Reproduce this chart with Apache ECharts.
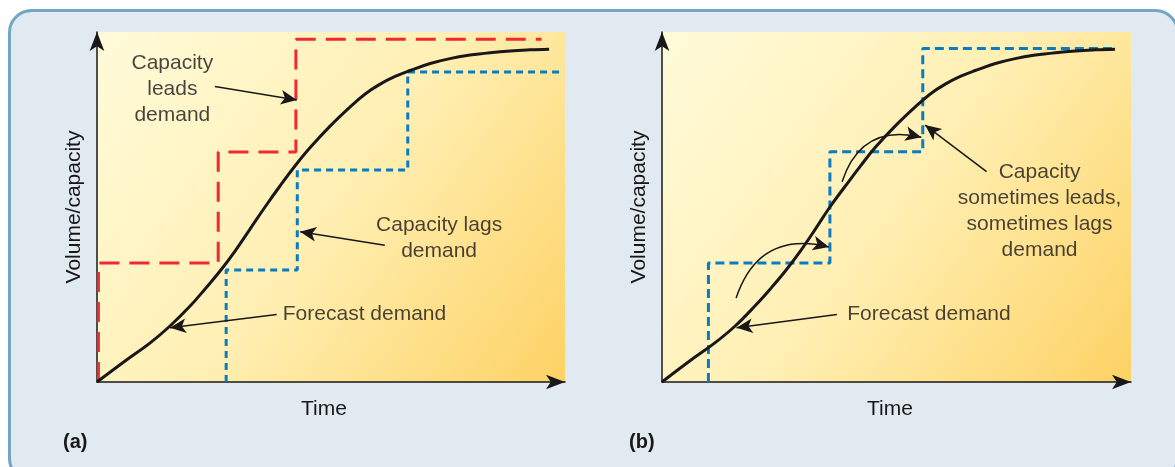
<!DOCTYPE html>
<html><head><meta charset="utf-8">
<script src="https://cdn.jsdelivr.net/npm/echarts@6/dist/echarts.min.js"></script>
<style>html,body{margin:0;padding:0;background:#fff}#c{width:1175px;height:467px}</style>
</head><body><div id="c"></div>
<script>
// ---------- data (x: time 0..100, y: volume/capacity 0..100) ----------
const curveA = [[0,0],[6,6],[11.3,11.1],[15.6,16],[19.9,21.7],[23.1,26.6],[26.3,31.7],[29.5,37.4],[32.7,43.7],[35.9,50],[39.1,56],[42.3,61.7],[45.5,66.9],[49.8,73.1],[54.1,78.6],[57.3,82.3],[60.5,85.1],[63.7,87.3],[66.9,89],[71.2,91],[75.4,92.4],[79.7,93.4],[84,94.1],[88.3,94.6],[92.5,94.9],[96.6,95.1]];
const leadStepsA = [[0.3,0],[0.3,34],[25.9,34],[25.9,65.7],[42.5,65.7],[42.5,97.9],[95,97.9]];
const lagStepsA = [[27.6,0],[27.6,32],[42.8,32],[42.8,60.6],[66.4,60.6],[66.4,88.6],[98.9,88.6]];
const curveB = [[0,0],[5.9,6],[11.2,11.1],[15.6,16],[19.8,21.7],[23.1,26.6],[26.3,31.7],[29.5,37.4],[32.7,43.7],[35.8,50],[39.1,56],[42.3,61.7],[45.4,66.9],[49.7,73.1],[54,78.6],[57.2,82.3],[60.4,85.1],[63.6,87.3],[66.8,89],[71.1,91],[75.3,92.4],[79.6,93.4],[83.9,94.1],[88.2,94.6],[92.4,94.9],[96.6,95.1]];
const mixedStepsB = [[9.9,0],[9.9,34],[35.8,34],[35.8,65.8],[55.6,65.8],[55.6,95.3],[96.6,95.3]];
// annotation texts anchored in data space
const labelsA = [[16.1,83.7,'Capacity\nleads\ndemand','center'],[73.1,41.2,'Capacity lags\ndemand','center'],[39.7,19.4,'Forecast demand','left']];
const labelsB = [[80.5,48.9,'Capacity\nsometimes leads,\nsometimes lags\ndemand','center'],[39.5,19.4,'Forecast demand','left']];
// straight arrows: [from, to]
const arrowsA = [[[25.2,84.4],[42.7,80.6]],[[61.5,39.1],[43.4,42.9]],[[38.4,19.3],[15.6,15.5]]];
const arrowsB = [[[37.3,19.3],[15.9,15.5]],[[69.2,60.1],[56.1,73.4]]];
// curved arrows in (b): [from, to]
const curvedArrowsB = [[[15.8,24.0],[35.6,38.6]],[[38.4,57.2],[55.3,69.9]]];
const axisNames = {x:'Time', y:'Volume/capacity'};
const panelTags = ['(a)','(b)'];

// ---------- chart ----------
const INK = '#1a1718';
const FONT = '"Liberation Sans", Arial, Helvetica, sans-serif';
const chart = echarts.init(document.getElementById('c'));
function bg(){ return new echarts.graphic.LinearGradient(0,0,1,1,[{offset:0,color:'#fffbda'},{offset:0.5,color:'#ffefb3'},{offset:1,color:'#fdd264'}]); }
function xAx(i, pad){ return {type:'value', gridIndex:i, min:0, max:100, name:axisNames.x, nameLocation:'middle', nameGap:17,
  nameTextStyle:{fontSize:21, color:INK, fontFamily:FONT, padding:[0,pad,0,0]},
  axisLine:{show:true, lineStyle:{color:INK, width:1.5}, symbol:['none','arrow'], symbolSize:[11,19]},
  axisTick:{show:false}, axisLabel:{show:false}, splitLine:{show:false}}; }
function yAx(i){ return {type:'value', gridIndex:i, min:0, max:100, name:axisNames.y, nameLocation:'middle', nameGap:12,
  nameTextStyle:{fontSize:21, color:INK, fontFamily:FONT},
  axisLine:{show:true, lineStyle:{color:INK, width:1.5}, symbol:['none','arrow'], symbolSize:[11,19]},
  axisTick:{show:false}, axisLabel:{show:false}, splitLine:{show:false}}; }
function lineS(i, data, color, width, type){ return {type:'line', xAxisIndex:i, yAxisIndex:i, data:data, showSymbol:false, symbol:'none',
  lineStyle:{color:color, width:width, type:type}, silent:true, animation:false, z:3}; }
function arrowS(i, arrows, curveness){ return {type:'lines', coordinateSystem:'cartesian2d', xAxisIndex:i, yAxisIndex:i, silent:true, animation:false, z:6,
  symbol:['none','arrow'], symbolSize:[1,[11,16]], effect:{show:false},
  lineStyle:{color:INK, width:1.5, type:'solid', opacity:1, curveness:curveness},
  data: arrows.map(a => ({coords:[a[0], a[1]]}))}; }
function labelS(i, labels){ return {type:'scatter', xAxisIndex:i, yAxisIndex:i, symbolSize:0, silent:true, animation:false, z:5,
  data: labels.map(l => ({value:[l[0],l[1]], label:{show:true, position:'inside', formatter:l[2], align:l[3], verticalAlign:'middle',
     fontSize:21, lineHeight:26, color:INK, fontFamily:FONT}}))}; }
chart.setOption({
  backgroundColor:'#ffffff',
  animation:false,
  graphic:{elements:[
    {type:'rect', z:-10, silent:true, shape:{x:9.5, y:10.5, width:1168, height:470, r:22}, style:{fill:'#e0eaf0', stroke:'#72a6c2', lineWidth:3}},
    {type:'text', z:10, silent:true, left:63, top:432, style:{text:panelTags[0], fontSize:20, fontWeight:'bold', fill:INK, fontFamily:FONT}},
    {type:'text', z:10, silent:true, left:629, top:432, style:{text:panelTags[1], fontSize:20, fontWeight:'bold', fill:INK, fontFamily:FONT}}
  ]},
  grid:[
    {left:97, top:32, width:468, height:350, show:true, backgroundColor:bg(), borderWidth:0, containLabel:false},
    {left:662, top:32, width:469, height:350, show:true, backgroundColor:bg(), borderWidth:0, containLabel:false}
  ],
  xAxis:[xAx(0,14), xAx(1,13)],
  yAxis:[yAx(0), yAx(1)],
  series:[
    lineS(0, leadStepsA, '#ed2a30', 3, [20,10]),
    lineS(0, lagStepsA, '#0a7bc1', 3, [7,5]),
    Object.assign(lineS(0, curveA, INK, 3, 'solid'), {smooth:0.4, z:4}),
    labelS(0, labelsA),
    arrowS(0, arrowsA, 0),
    lineS(1, mixedStepsB, '#0a7bc1', 3, [9,5]),
    Object.assign(lineS(1, curveB, INK, 3, 'solid'), {smooth:0.4, z:4}),
    labelS(1, labelsB),
    arrowS(1, arrowsB, 0),
    arrowS(1, curvedArrowsB, 0.46)
  ]
});
</script></body></html>
